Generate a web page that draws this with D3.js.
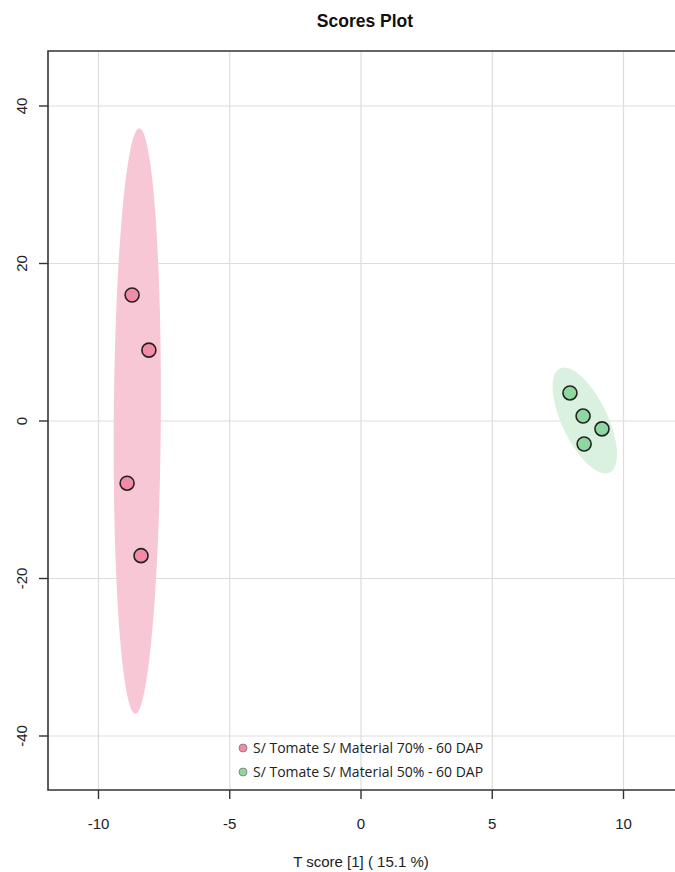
<!DOCTYPE html>
<html><head><meta charset="utf-8">
<script src="https://cdn.jsdelivr.net/npm/d3@7"></script>
<style>body{margin:0;background:#fff}svg{display:block}</style>
</head><body>
<script>
const groups = ["S/ Tomate S/ Material 70% - 60 DAP", "S/ Tomate S/ Material 50% - 60 DAP"];
const pointColors = ["#F28BA6", "#8FD6A0"];
const ellipseColors = ["#F8C7D5", "#DBF1DF"];
const xTicks = [-10, -5, 0, 5, 10];
const yTicks = [-40, -20, 0, 20, 40];
const group70X = [-8.72, -8.08, -8.91, -8.38];
const group70Y = [16.0, 9.0, -7.9, -17.1];
const group50X = [7.96, 8.46, 9.18, 8.50];
const group50Y = [3.56, 0.63, -1.0, -2.92];
const seriesX = [group70X, group50X];
const seriesY = [group70Y, group50Y];

(function () {
const W = 675, H = 872;
const pL = 48, pT = 51, pB = 790, pR = 690;
const svg = d3.select("body").append("svg").attr("width", W).attr("height", H);
const x = d3.scaleLinear().domain([-10, 10]).range([98.5, 623.5]);
const y = d3.scaleLinear().domain([-40, 40]).range([736, 106]);

svg.append("clipPath").attr("id", "c").append("rect")
  .attr("x", pL).attr("y", pT).attr("width", pR - pL).attr("height", pB - pT);
const g = svg.append("g").attr("clip-path", "url(#c)");

// grid
g.selectAll(".vg").data(xTicks).enter().append("line")
  .attr("x1", d => x(d)).attr("x2", d => x(d)).attr("y1", pT).attr("y2", pB)
  .attr("stroke", "#dddddd").attr("stroke-width", 1.2);
g.selectAll(".hg").data(yTicks).enter().append("line")
  .attr("y1", d => y(d)).attr("y2", d => y(d)).attr("x1", pL).attr("x2", pR)
  .attr("stroke", "#dddddd").attr("stroke-width", 1.2);

// 95% confidence ellipses (ellipse package formula)
const tq = Math.sqrt(-2 * Math.log(0.05));
function ellipsePts(xs, ys) {
  const n = xs.length, mx = d3.mean(xs), my = d3.mean(ys);
  let sxx = 0, syy = 0, sxy = 0;
  for (let i = 0; i < n; i++) { sxx += (xs[i]-mx)**2; syy += (ys[i]-my)**2; sxy += (xs[i]-mx)*(ys[i]-my); }
  sxx /= n - 1; syy /= n - 1; sxy /= n - 1;
  const sx = Math.sqrt(sxx), sy = Math.sqrt(syy), r = sxy / (sx * sy);
  const dd = Math.acos(r);
  return d3.range(0, 101).map(i => {
    const a = i / 100 * 2 * Math.PI;
    return [mx + tq * sx * Math.cos(a + dd / 2), my + tq * sy * Math.cos(a - dd / 2)];
  });
}
const line = d3.line().x(d => x(d[0])).y(d => y(d[1])).curve(d3.curveLinearClosed);
seriesX.forEach((xs, i) => {
  g.append("path").attr("d", line(ellipsePts(xs, seriesY[i]))).attr("fill", ellipseColors[i]).attr("stroke", "none");
});

// points
seriesX.forEach((xs, i) => {
  g.selectAll(".p" + i).data(xs.map((v, j) => [v, seriesY[i][j]])).enter().append("circle")
    .attr("cx", d => x(d[0])).attr("cy", d => y(d[1])).attr("r", 7)
    .attr("fill", pointColors[i]).attr("stroke", "#222").attr("stroke-width", 1.6);
});

// legend
const lg = svg.append("g");
groups.forEach((name, i) => {
  const ly = 748 + i * 24;
  lg.append("circle").attr("cx", 243).attr("cy", ly).attr("r", 4)
    .attr("fill", pointColors[i]).attr("stroke", "#777").attr("stroke-width", 0.8);
  lg.append("text").attr("x", 253).attr("y", ly + 5).text(name)
    .attr("font-family", "Open Sans, sans-serif").attr("font-size", 14).attr("fill", "#222");
});

// frame (left, top, bottom)
svg.append("path").attr("d", `M${pR},${pT}H${pL}V${pB}H${pR}`)
  .attr("fill", "none").attr("stroke", "#333").attr("stroke-width", 1.6);

// axes ticks
svg.selectAll(".xt").data(xTicks).enter().append("line")
  .attr("x1", d => x(d)).attr("x2", d => x(d)).attr("y1", pB).attr("y2", pB + 9)
  .attr("stroke", "#333").attr("stroke-width", 1.4);
svg.selectAll(".xl").data(xTicks).enter().append("text")
  .attr("x", d => x(d)).attr("y", 829).attr("text-anchor", "middle").text(d => d)
  .attr("font-family", "Liberation Sans, Arial, sans-serif").attr("font-size", 15).attr("fill", "#222");
svg.selectAll(".yt").data(yTicks).enter().append("line")
  .attr("y1", d => y(d)).attr("y2", d => y(d)).attr("x1", pL).attr("x2", pL - 9)
  .attr("stroke", "#333").attr("stroke-width", 1.4);
svg.selectAll(".yl").data(yTicks).enter().append("text")
  .attr("transform", d => `translate(27,${y(d)}) rotate(-90)`)
  .attr("text-anchor", "middle").text(d => d)
  .attr("font-family", "Liberation Sans, Arial, sans-serif").attr("font-size", 15).attr("fill", "#222");

// titles
svg.append("text").attr("x", 365).attr("y", 27).attr("text-anchor", "middle").text("Scores Plot")
  .attr("font-family", "Liberation Sans, Arial, sans-serif").attr("font-size", 17.5).attr("font-weight", "bold").attr("fill", "#111");
svg.append("text").attr("x", 361).attr("y", 867).attr("text-anchor", "middle").text("T score [1] ( 15.1 %)")
  .attr("font-family", "Liberation Sans, Arial, sans-serif").attr("font-size", 15).attr("fill", "#222");
})();
</script>
</body></html>
